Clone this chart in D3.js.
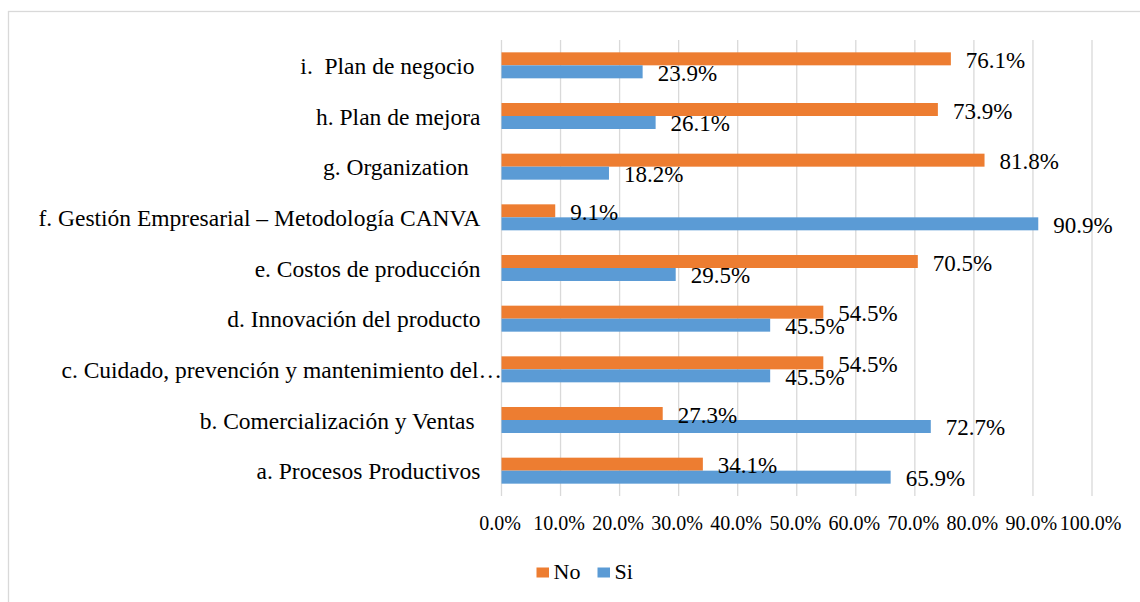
<!DOCTYPE html>
<html>
<head>
<meta charset="utf-8">
<script src="https://cdn.jsdelivr.net/npm/d3@7"></script>
<style>
  html, body { margin: 0; padding: 0; background: #ffffff; }
  svg { display: block; }
  text { font-family: "Liberation Serif", "Times New Roman", serif; fill: #000; }
</style>
</head>
<body>
<svg id="chart" width="1140" height="602"></svg>
<script>
// Categories listed bottom-to-top, as in the source workbook
const categories = [
  "a. Procesos Productivos",
  "b. Comercialización y Ventas ",
  "c. Cuidado, prevención y mantenimiento del…",
  "d. Innovación del producto",
  "e. Costos de producción",
  "f. Gestión Empresarial – Metodología CANVA",
  "g. Organization  ",
  "h. Plan de mejora",
  "i.  Plan de negocio "
];
const seriesNames = ["No", "Si"];
const noValues = [0.341, 0.273, 0.545, 0.545, 0.705, 0.091, 0.818, 0.739, 0.761];
const siValues = [0.659, 0.727, 0.455, 0.455, 0.295, 0.909, 0.182, 0.261, 0.239];
const tickValues = [0, 0.1, 0.2, 0.3, 0.4, 0.5, 0.6, 0.7, 0.8, 0.9, 1.0];

const colors = { No: "#ED7D31", Si: "#5B9BD5" };
const valuesBySeries = { No: noValues, Si: siValues };
const serif = "'Liberation Serif', 'Times New Roman', serif";

const svg = d3.select("#chart");

// Chart frame
svg.append("rect")
  .attr("x", 8.5).attr("y", 11.5)
  .attr("width", 1200).attr("height", 700)
  .attr("fill", "none").attr("stroke", "#d9d9d9").attr("stroke-width", 1.3);

const plot = { left: 501.5, right: 1092, top: 40, bottom: 496 };

const x = d3.scaleLinear().domain([0, 1]).range([plot.left, plot.right]);

// Top row is the last category
const y = d3.scaleBand()
  .domain(categories.slice().reverse())
  .range([plot.top, plot.bottom])
  .paddingInner(0.487)
  .paddingOuter(0.2435);

const ySub = d3.scaleBand().domain(seriesNames).range([0, y.bandwidth()]);

// Vertical gridlines
svg.append("g").selectAll("line")
  .data(tickValues)
  .join("line")
  .attr("x1", d => x(d)).attr("x2", d => x(d))
  .attr("y1", plot.top).attr("y2", plot.bottom)
  .attr("stroke", "#d9d9d9").attr("stroke-width", 1.3);

// Tick labels
const axis = d3.axisBottom(x).tickValues(tickValues).tickFormat(d3.format(".1%")).tickSize(0);
const axisG = svg.append("g").attr("transform", `translate(0,${plot.bottom})`).call(axis);
axisG.select(".domain").remove();
axisG.selectAll("text")
  .attr("y", 34).attr("dy", null).attr("dx", -2)
  .style("font-family", serif)
  .style("font-size", "20px").attr("fill", "#000");

// Category labels
svg.append("g").selectAll("text")
  .data(categories)
  .join("text")
  .attr("xml:space", "preserve")
  .style("white-space", "pre")
  .style("font-family", serif)
  .attr("text-anchor", "end")
  .attr("x", d => d.endsWith("…") ? plot.left + 0.5 : plot.left - 21)
  .attr("y", d => y(d) + y.bandwidth() / 2 + 8.5)
  .style("font-size", "23.5px")
  .text(d => d);

// Bars and value labels
const rows = [];
categories.forEach((c, i) => {
  seriesNames.forEach(s => rows.push({ cat: c, series: s, value: valuesBySeries[s][i] }));
});

svg.append("g").selectAll("rect")
  .data(rows)
  .join("rect")
  .attr("x", x(0))
  .attr("y", d => y(d.cat) + ySub(d.series))
  .attr("width", d => x(d.value) - x(0))
  .attr("height", ySub.bandwidth())
  .attr("fill", d => colors[d.series]);

svg.append("g").selectAll("text")
  .data(rows)
  .join("text")
  .attr("x", d => x(d.value) + 15)
  .attr("y", d => y(d.cat) + ySub(d.series) + ySub.bandwidth() / 2 + 9)
  .style("font-family", serif)
  .style("font-size", "23px")
  .text(d => d3.format(".1%")(d.value));

// Legend
const legend = svg.append("g").attr("transform", "translate(536.5,567.5)");
const legendItems = legend.selectAll("g")
  .data(seriesNames)
  .join("g")
  .attr("transform", (d, i) => `translate(${i * 61},0)`);
legendItems.append("rect")
  .attr("width", 12.5).attr("height", 10)
  .attr("fill", d => colors[d]);
legendItems.append("text")
  .attr("x", 17).attr("y", 11.5)
  .style("font-family", serif)
  .style("font-size", "22px")
  .text(d => d);
</script>
</body>
</html>
